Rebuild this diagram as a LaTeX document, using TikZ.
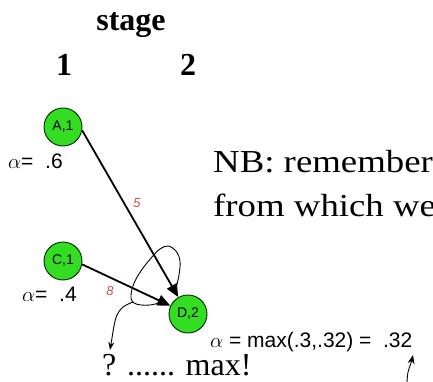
\documentclass[tikz,border=0pt]{standalone}
\usepackage{fontspec}
\setmainfont{Liberation Serif}
\newfontfamily\arialf{Liberation Sans}
\newfontfamily\wideserif[FakeStretch=1.15]{Liberation Serif}
\usetikzlibrary{arrows.meta}
\definecolor{nodegreen}{RGB}{51,221,34}
\definecolor{lblred}{RGB}{196,80,70}
\begin{document}
\begin{tikzpicture}[x=1pt,y=-1pt,
  state/.style={circle,draw=black!85!green,line width=0.9pt,fill=nodegreen,minimum size=38pt,inner sep=0pt,font=\arialf\fontsize{14}{14}\selectfont},
  bigtext/.style={font=\fontsize{32}{32}\selectfont,inner sep=0pt,anchor=base},
  bigleft/.style={font=\fontsize{32}{32}\selectfont,inner sep=0pt,anchor=base west},
  alphalbl/.style={font=\arialf\fontsize{21}{21}\selectfont,inner sep=0pt,anchor=base west},
  wlbl/.style={font=\arialf\itshape\fontsize{13}{13}\selectfont,text=lblred,inner sep=0pt},
  edge/.style={line width=1.8pt,-{Triangle[length=13pt,width=11pt]}},
  hand/.style={line width=0.9pt}
]
\clip (0,0) rectangle (433,382);
\fill[white] (0,0) rectangle (433,382);

% headings
\node[bigtext,font=\bfseries\fontsize{32}{32}\selectfont] (stage) at (131,31) {stage};
\node[bigtext,font=\bfseries\fontsize{32}{32}\selectfont] (s1) at (64,76) {1};
\node[bigtext,font=\bfseries\fontsize{32}{32}\selectfont] (s2) at (188,76) {2};

% nodes
\node[state] (A) at (63,127) {A,1};
\node[state] (C) at (63,261) {C,1};
\node[state] (D) at (188,314) {D,2};

% alpha labels
\node[alphalbl] (aA) at (8,168) {$\alpha$= \ .6};
\node[alphalbl] (aC) at (22,301) {$\alpha$= \ .4};
\node[alphalbl] (aD) at (210,347) {$\alpha$ = max(.3,.32) = \ .32};

% edges
\draw[edge] (A.-10) -- (D);
\draw[edge] (C.-10) -- (D);
\node[wlbl] (w5) at (137,203) {5};
\node[wlbl] (w8) at (110,291) {8};

% note text (cut by the picture edge)
\node[bigleft,font=\wideserif\fontsize{32}{32}\selectfont] (nb1) at (213,172) {NB: remember};
\node[bigleft,font=\wideserif\fontsize{32}{32}\selectfont] (nb2) at (213,216) {from which we};

% bottom text
\node[bigleft] (q) at (102,375) {? ...... max!};

% hand-drawn loop round the arrow heads
\draw[hand] plot[smooth,tension=0.6] coordinates {(176,288) (179,275) (180,261) (176,251) (168,246) (160,249) (152,257) (143,268) (136,279) (132,289) (131,298) (134,303) (141,305) (150,305) (159,303)};
\coordinate (qtip) at (110,350);
\draw[hand,-{Stealth[length=8pt,width=6pt]}] plot[smooth,tension=0.6] coordinates {(133,302) (123,307) (117,315) (114,326) (112,338) (qtip)};
\coordinate (rtip) at (413,355);
\coordinate (rtail) at (407,382);
\draw[hand,-{Stealth[length=9pt,width=7pt]}] plot[smooth,tension=0.6] coordinates {(rtail) (408,372) (411,363) (rtip)};
\end{tikzpicture}
\end{document}
